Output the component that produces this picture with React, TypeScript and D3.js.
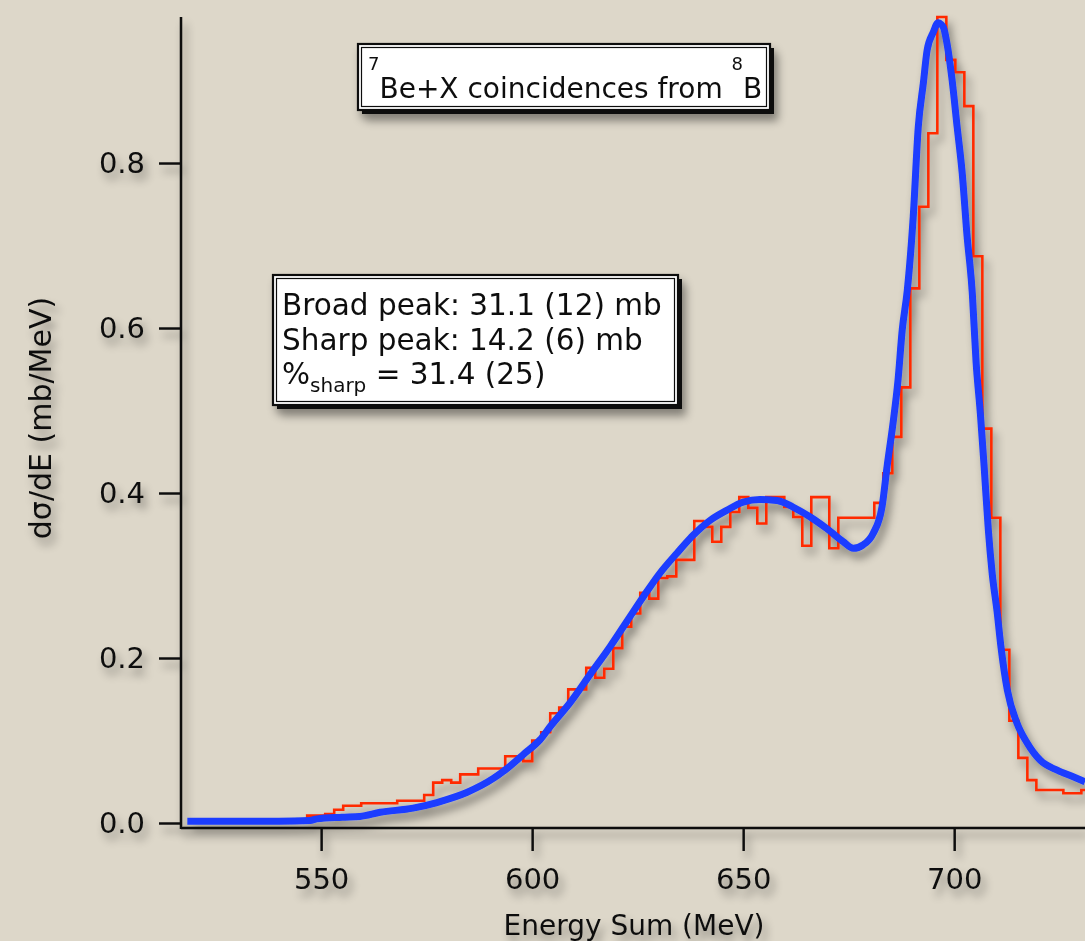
import { useEffect, useRef } from "react"
import * as d3 from "d3"

// measured histogram (red), constant bin width in MeV
const histStart = 546.7
const histWidth = 2.133
const histValues = [
  0.009, 0.009, 0.011, 0.016, 0.021, 0.021, 0.024, 0.024, 0.024, 0.024,
  0.027, 0.027, 0.027, 0.034, 0.049, 0.052, 0.049, 0.059, 0.059, 0.066,
  0.066, 0.066, 0.081, 0.081, 0.075, 0.1, 0.11, 0.133, 0.14, 0.162,
  0.162, 0.188, 0.176, 0.187, 0.212, 0.238, 0.254, 0.279, 0.272, 0.297,
  0.299, 0.319, 0.319, 0.366, 0.359, 0.341, 0.359, 0.377, 0.395, 0.382,
  0.363, 0.395, 0.395, 0.383, 0.371, 0.336, 0.395, 0.395, 0.333, 0.37,
  0.37, 0.37, 0.37, 0.388, 0.424, 0.468, 0.528, 0.648, 0.747, 0.836,
  0.977, 0.925, 0.91, 0.869, 0.687, 0.478, 0.37, 0.21, 0.124, 0.079,
  0.052, 0.04, 0.04, 0.04, 0.036, 0.036, 0.04,
]

// fitted curve (blue)
const fitEnergy = [
  518.3, 530, 540, 547.4, 549.0, 555, 559.2, 564.0, 571.8, 578.2,
  584.5, 590.8, 594.5, 597.9, 601.9, 604.3, 609.0, 614.0, 618.5, 622.4,
  626.3, 630.3, 634.3, 638.2, 642.2, 646.1, 650.0, 654.0, 658.0, 661.8,
  665.9, 669.8, 673.7, 676.1, 678.4, 680.8, 682.9, 684.1, 685.6, 686.7,
  687.7, 688.9, 690.3, 691.5, 692.7, 693.6, 695.0, 696.2, 697.4, 698.3,
  699.5, 700.7, 701.9, 703.0, 704.3, 705.2, 706.2, 707.1, 708.1, 709.0,
  710.2, 711.1, 712.6, 714.9, 717.3, 720.4, 724.4, 728.2, 731.0,
]
const fitValues = [
  0.002, 0.002, 0.002, 0.003, 0.005, 0.007, 0.008, 0.013, 0.018, 0.026,
  0.037, 0.054, 0.068, 0.083, 0.101, 0.117, 0.146, 0.182, 0.214, 0.244,
  0.274, 0.303, 0.327, 0.349, 0.367, 0.379, 0.389, 0.392, 0.391, 0.383,
  0.371, 0.357, 0.341, 0.333, 0.337, 0.351, 0.383, 0.432, 0.488, 0.537,
  0.598, 0.646, 0.735, 0.844, 0.897, 0.937, 0.958, 0.97, 0.965, 0.945,
  0.901, 0.844, 0.788, 0.715, 0.642, 0.558, 0.497, 0.432, 0.355, 0.303,
  0.255, 0.213, 0.161, 0.121, 0.097, 0.076, 0.064, 0.056, 0.05,
]

const xTicks = [550, 600, 650, 700]
const yTicks = [0, 0.2, 0.4, 0.6, 0.8]

const WIDTH = 1085
const HEIGHT = 941
const FONT = "'DejaVu Sans', Verdana, sans-serif"

const App = () => {
  const svgRef = useRef<SVGSVGElement | null>(null)

  useEffect(() => {
    if (!svgRef.current) return
    document.body.style.margin = "0"

    const svg = d3.select(svgRef.current)
    svg.selectAll("*").remove()

    const left = 181
    const axisY = 828

    const x = d3.scaleLinear().domain([516.8, 731]).range([left, WIDTH])
    const y = d3.scaleLinear().domain([0, 0.977]).range([823, 17])

    // background + shadow filter
    const defs = svg.append("defs")
    const filter = defs
      .append("filter")
      .attr("id", "shadow")
      .attr("x", "-10%")
      .attr("y", "-10%")
      .attr("width", "130%")
      .attr("height", "130%")
    filter
      .append("feDropShadow")
      .attr("dx", 4)
      .attr("dy", 7)
      .attr("stdDeviation", 4)
      .attr("flood-color", "#000")
      .attr("flood-opacity", 0.4)

    defs
      .append("clipPath")
      .attr("id", "plot-clip")
      .append("rect")
      .attr("x", left)
      .attr("y", 0)
      .attr("width", WIDTH - left)
      .attr("height", axisY)

    svg.append("rect").attr("width", WIDTH).attr("height", HEIGHT).attr("fill", "#ddd7c9")

    const g = svg.append("g").attr("filter", "url(#shadow)").style("font-family", FONT)

    // Y axis
    const yAxis = g
      .append("g")
      .attr("transform", `translate(${left},0)`)
      .call(
        d3
          .axisLeft(y)
          .tickValues(yTicks)
          .tickSize(22)
          .tickSizeOuter(0)
          .tickPadding(14)
          .tickFormat(d3.format(".1f") as any),
      )
    yAxis.select(".domain").remove()
    yAxis.selectAll("line").attr("stroke", "#111").attr("stroke-width", 2.5)
    yAxis.selectAll("text").attr("fill", "#111").style("font-size", "29px").style("font-family", FONT)

    // X axis
    const xAxis = g
      .append("g")
      .attr("transform", `translate(0,${axisY})`)
      .call(d3.axisBottom(x).tickValues(xTicks).tickSize(23).tickSizeOuter(0).tickPadding(17))
    xAxis.select(".domain").remove()
    xAxis.selectAll("line").attr("stroke", "#111").attr("stroke-width", 2.5)
    xAxis.selectAll("text").attr("fill", "#111").style("font-size", "29px").style("font-family", FONT)

    // axis lines
    g.append("line")
      .attr("x1", left)
      .attr("x2", left)
      .attr("y1", 17)
      .attr("y2", axisY + 1)
      .attr("stroke", "#111")
      .attr("stroke-width", 2.5)
    g.append("line")
      .attr("x1", left)
      .attr("x2", WIDTH)
      .attr("y1", axisY)
      .attr("y2", axisY)
      .attr("stroke", "#111")
      .attr("stroke-width", 2.5)

    // axis titles
    g.append("text")
      .attr("x", 634)
      .attr("y", 935)
      .attr("text-anchor", "middle")
      .attr("fill", "#111")
      .style("font-size", "28px")
      .text("Energy Sum (MeV)")

    g.append("text")
      .attr("transform", "translate(51,418) rotate(-90)")
      .attr("text-anchor", "middle")
      .attr("fill", "#111")
      .style("font-size", "30px")
      .text("dσ/dE (mb/MeV)")

    // histogram
    const histPoints: [number, number][] = [[histStart, 0]]
    histValues.forEach((v, i) => histPoints.push([histStart + i * histWidth, v]))
    histPoints.push([histStart + histValues.length * histWidth, histValues[histValues.length - 1]])

    const plot = g.append("g").attr("clip-path", "url(#plot-clip)")

    const stepLine = d3
      .line<[number, number]>()
      .x((d) => x(d[0]))
      .y((d) => y(d[1]))
      .curve(d3.curveStepAfter)

    plot
      .append("path")
      .datum(histPoints)
      .attr("fill", "none")
      .attr("stroke", "#ff2a00")
      .attr("stroke-width", 2.6)
      .attr("d", stepLine)

    // fit curve
    const fitPoints: [number, number][] = fitEnergy.map((e, i) => [e, fitValues[i]])
    const fitLine = d3
      .line<[number, number]>()
      .x((d) => x(d[0]))
      .y((d) => y(d[1]))
      .curve(d3.curveMonotoneX)

    plot
      .append("path")
      .datum(fitPoints)
      .attr("fill", "none")
      .attr("stroke", "#1a3cff")
      .attr("stroke-width", 7)
      .attr("stroke-linejoin", "round")
      .attr("d", fitLine)

    // framed text box with offset shadow
    const box = (bx: number, by: number, bw: number, bh: number) => {
      const b = g.append("g")
      b.append("rect")
        .attr("x", bx + 4)
        .attr("y", by + 4)
        .attr("width", bw)
        .attr("height", bh)
        .attr("fill", "#111")
      b.append("rect")
        .attr("x", bx)
        .attr("y", by)
        .attr("width", bw)
        .attr("height", bh)
        .attr("fill", "#fff")
        .attr("stroke", "#111")
        .attr("stroke-width", 2.2)
      b.append("rect")
        .attr("x", bx + 3.5)
        .attr("y", by + 3.5)
        .attr("width", bw - 7)
        .attr("height", bh - 7)
        .attr("fill", "none")
        .attr("stroke", "#111")
        .attr("stroke-width", 1.2)
      return b
    }

    // title box
    const tb = box(358, 44, 412, 66)
    const title = tb.append("text").attr("x", 368).attr("y", 98).attr("fill", "#111").style("font-size", "28px")
    title.append("tspan").attr("dy", -28).style("font-size", "18px").text("7")
    title.append("tspan").attr("dy", 28).text("Be+X coincidences from ")
    title.append("tspan").attr("dy", -28).style("font-size", "18px").text("8")
    title.append("tspan").attr("dy", 28).text("B")

    // results box
    const rb = box(273, 275, 405, 130)
    const lines = ["Broad peak: 31.1 (12) mb", "Sharp peak: 14.2 (6) mb"]
    lines.forEach((l, i) => {
      rb.append("text")
        .attr("x", 282)
        .attr("y", 315 + i * 35)
        .attr("fill", "#111")
        .style("font-size", "29.5px")
        .text(l)
    })
    const pct = rb.append("text").attr("x", 282).attr("y", 384).attr("fill", "#111").style("font-size", "29.5px")
    pct.append("tspan").text("%")
    pct.append("tspan").attr("dy", 8).style("font-size", "20px").text("sharp")
    pct.append("tspan").attr("dy", -8).text(" = 31.4 (25)")
  }, [])

  return <svg ref={svgRef} width={WIDTH} height={HEIGHT} style={{ display: "block" }} />
}

export default App
